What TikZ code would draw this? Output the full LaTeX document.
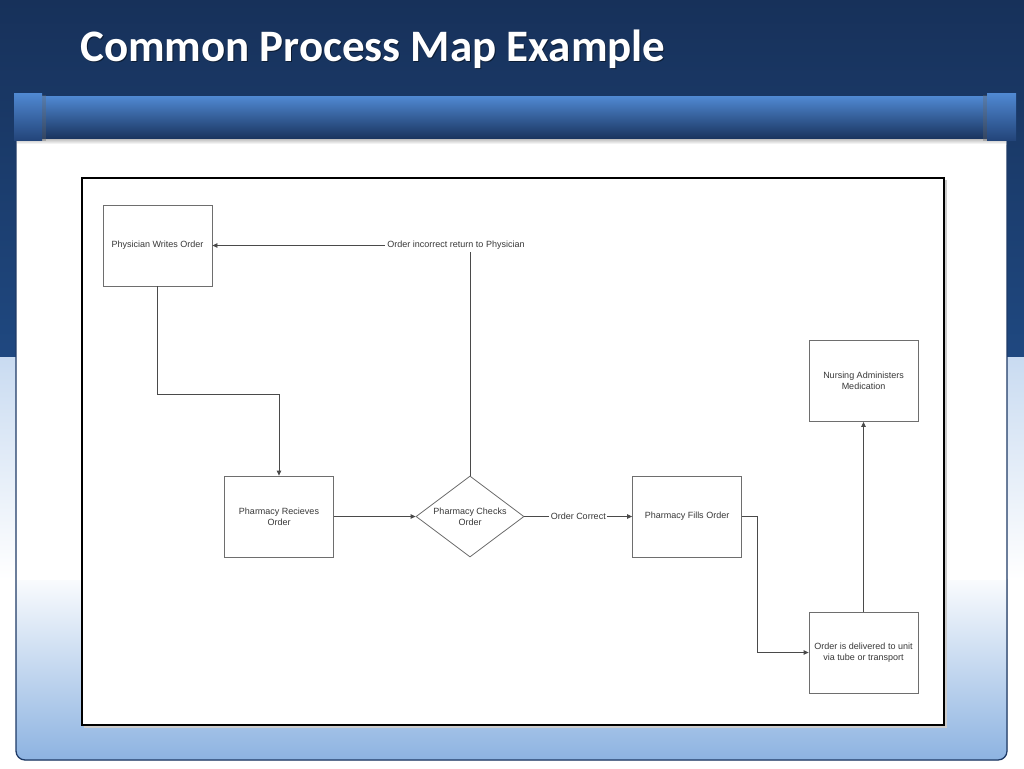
\documentclass[tikz,border=0pt]{standalone}
\usepackage{fontspec}
\setmainfont{Liberation Sans}
\newfontfamily\titlefont{Carlito}
\usetikzlibrary{shapes.geometric,arrows.meta,calc}
\definecolor{navyTop}{HTML}{17315A}
\definecolor{navyBot}{HTML}{1F4880}
\definecolor{lowTop}{HTML}{C9DBF1}
\definecolor{panelBlue}{HTML}{8DB3E1}
\definecolor{barTop}{HTML}{5089D3}
\definecolor{barMid}{HTML}{3E70B4}
\definecolor{barBot}{HTML}{1A3560}
\definecolor{capBot}{HTML}{23457A}
\definecolor{panelEdge}{HTML}{1E3A66}
\definecolor{boxEdge}{HTML}{6E6E6E}
\definecolor{txt}{HTML}{383838}
\definecolor{wire}{HTML}{4A4A4A}
\tikzset{
  procbox/.style={draw=boxEdge, line width=0.8pt, fill=white, minimum width=109pt,
    minimum height=81pt, align=center, inner sep=0pt,
    font=\fontsize{9}{11}\selectfont, text=txt},
  decbox/.style={diamond, aspect=1.333, draw=boxEdge, line width=0.8pt, fill=white, minimum width=108pt,
    minimum height=81pt, align=center, inner sep=0pt,
    font=\fontsize{9}{11}\selectfont, text=txt},
  arr/.style={draw=wire, line width=0.8pt, -{Triangle[length=5pt,width=4.5pt]}},
  lbl/.style={fill=white, inner sep=1.5pt, font=\fontsize{9}{11}\selectfont, text=txt},
}
\begin{document}
\begin{tikzpicture}[x=1pt,y=-1pt]
\useasboundingbox (0,0) rectangle (1024,768);
% background
\fill[top color=navyTop, bottom color=navyBot] (0,0) rectangle (1024,357);
\fill[top color=lowTop, bottom color=white] (0,357) rectangle (1024,580);
\fill[white] (0,580) rectangle (1024,768);
% panel
\fill[white] (16,138) rectangle (1007,600);
\fill[top color=white, bottom color=panelBlue, rounded corners=9pt]
  (16,570) -- (16,760) -- (1007,760) -- (1007,570) [sharp corners] -- cycle;
\fill[white] (16,570) rectangle (1007,580);
\draw[panelEdge, line width=1.3pt, rounded corners=9pt] (16,138) -- (16,760) -- (1007,760) -- (1007,138);
% shadow under bar
\fill[top color=black!35, bottom color=white] (17,137) rectangle (1006,144);
% bar
\fill[top color=barTop, middle color=barMid, bottom color=barBot] (18,96) rectangle (1006,138);
% caps
\fill[black!60, opacity=0.35] (42,95) rectangle (46,141);
\fill[black!60, opacity=0.35] (983,95) rectangle (987,141);
\fill[top color=barTop, bottom color=capBot] (14,93) rectangle (42,140);
\fill[top color=barTop, bottom color=capBot] (987,93) rectangle (1016,140);
% title
\node[anchor=base west, text=black, opacity=0.45, inner sep=0pt, font=\titlefont\fontsize{45}{54}\selectfont\bfseries] at (81,63) {Common Process Map Example};
\node[anchor=base west, text=white, inner sep=0pt, font=\titlefont\fontsize{45}{54}\selectfont\bfseries] (title) at (80,62) {Common Process Map Example};
% inner frame
\fill[black!20] (84,180) rectangle (947,728);
\draw[black, line width=2.5pt, fill=white] (82,178) rectangle (944,725);
% nodes
\node[procbox] (phys) at (157.5,245.5) {Physician Writes Order};
\node[procbox] (recv) at (279,516.5) {Pharmacy Recieves\\Order};
\node[decbox] (chk) at (470,516.5) {Pharmacy Checks\\Order};
\node[procbox] (fill) at (687,516.5) {Pharmacy Fills Order};
\node[procbox] (deliv) at (863.5,652.5) {Order is delivered to unit\\via tube or transport};
\node[procbox] (nurse) at (863.5,381) {Nursing Administers\\Medication};
% connectors
\draw[arr] (phys.south) -- ++(0,108) -| (recv.north);
\draw[arr] (recv.east) -- (chk.west);
\draw[arr] (chk.east) -- node[lbl] (ok) {Order Correct} (fill.west);
\draw[arr] (chk.north) |- (phys.east);
\node[lbl, inner sep=2pt] (inc) at (456,245.5) {Order incorrect return to Physician};
\draw[arr] (fill.east) -- ++(15,0) |- (deliv.west);
\draw[arr] (deliv.north) -- (nurse.south);
\end{tikzpicture}
\end{document}
